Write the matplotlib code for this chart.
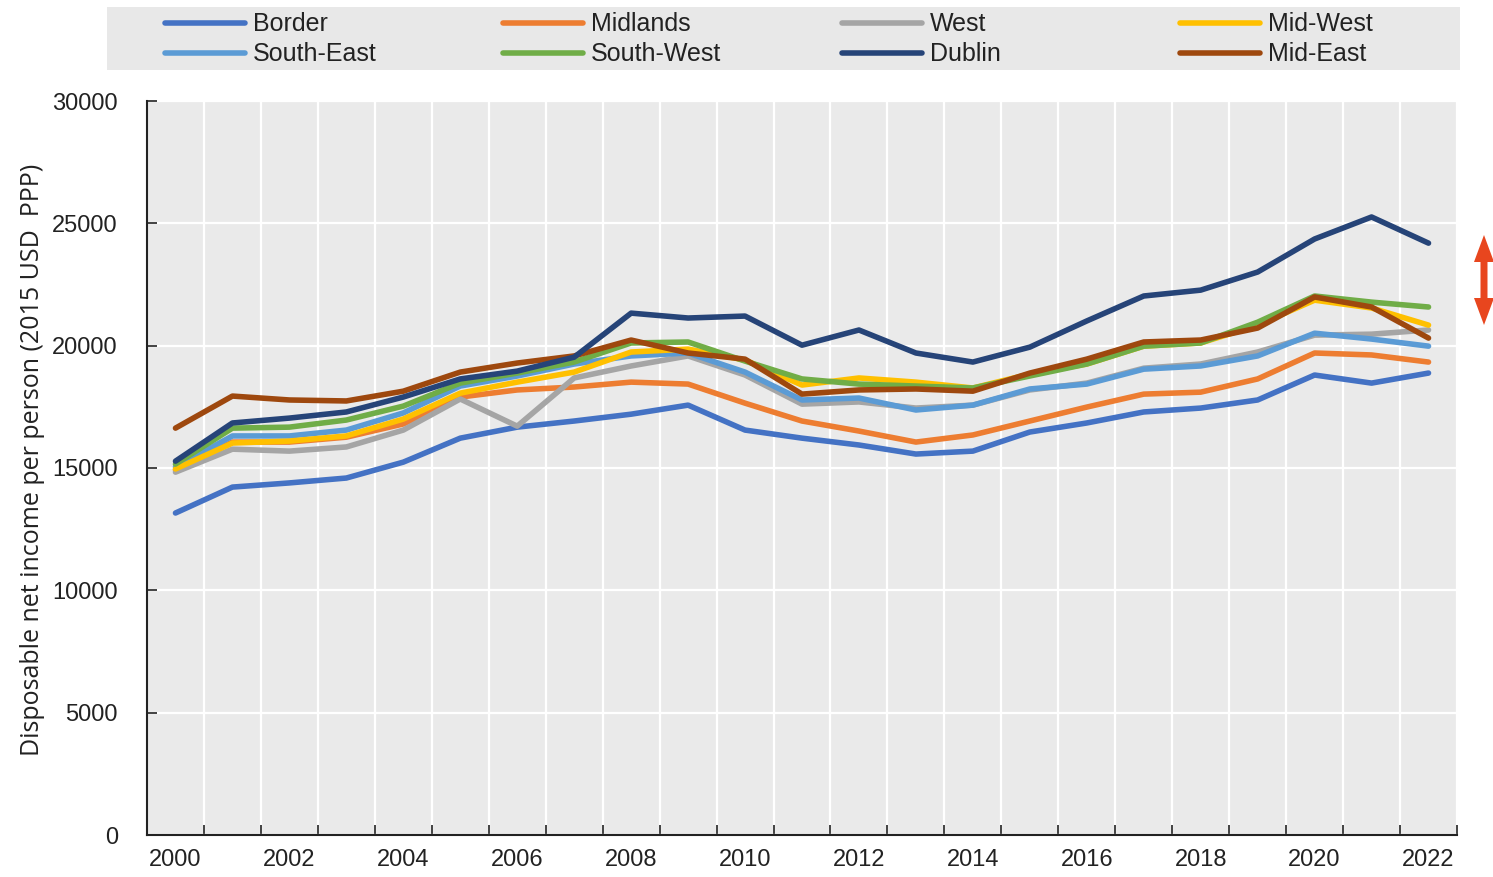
import matplotlib
matplotlib.use("Agg")
import matplotlib.pyplot as plt
from matplotlib.patches import Polygon
import numpy as np

years = list(range(2000, 2023))

border = [13160, 14220, 14390, 14590, 15240, 16220, 16670, 16920, 17200, 17570, 16550, 16220,
          15940, 15570, 15690, 16470, 16840, 17290, 17450, 17780, 18800, 18470, 18880]
midlands = [14920, 16060, 16060, 16260, 16800, 17900, 18190, 18310, 18510, 18430, 17650, 16920,
            16510, 16060, 16350, 16920, 17490, 18020, 18100, 18640, 19700, 19620, 19330]
west = [14830, 15770, 15690, 15860, 16550, 17820, 16710, 18680, 19170, 19580, 18800, 17610,
        17700, 17450, 17570, 18190, 18470, 19080, 19250, 19740, 20430, 20470, 20640]
mid_west = [14960, 16020, 16100, 16310, 17000, 18060, 18510, 18920, 19740, 19860, 19410, 18390,
            18680, 18510, 18270, 18840, 19250, 19980, 20110, 20840, 21860, 21540, 20840]
south_east = [15040, 16310, 16310, 16550, 17250, 18350, 18760, 19250, 19580, 19700, 18920, 17780,
              17860, 17370, 17570, 18230, 18430, 19040, 19170, 19580, 20510, 20270, 19980]
south_west = [15160, 16630, 16670, 16960, 17530, 18470, 18880, 19330, 20110, 20150, 19370, 18640,
              18430, 18350, 18270, 18760, 19250, 19980, 20110, 20960, 22030, 21780, 21580]
dublin = [15280, 16840, 17040, 17290, 17900, 18640, 18960, 19530, 21330, 21130, 21210, 20020,
          20640, 19700, 19330, 19940, 21010, 22030, 22270, 23010, 24360, 25260, 24190]
mid_east = [16630, 17940, 17780, 17740, 18140, 18920, 19290, 19580, 20230, 19700, 19450, 18020,
            18190, 18230, 18140, 18880, 19450, 20150, 20230, 20720, 21990, 21580, 20310]

# legend layout order (row by row)
names = ["Border", "Midlands", "West", "Mid-West",
         "South-East", "South-West", "Dublin", "Mid-East"]
series = [border, midlands, west, mid_west, south_east, south_west, dublin, mid_east]
colors = ["#4472C4", "#ED7D31", "#A5A5A5", "#FFC000",
          "#5B9BD5", "#70AD47", "#264478", "#9E480E"]
draw_order = [0, 1, 2, 4, 3, 5, 7, 6]

plt.rcParams["font.family"] = ["Liberation Sans", "DejaVu Sans"]
fs = 17
W, H = 1493, 877

fig = plt.figure(figsize=(W / 100, H / 100), dpi=100, facecolor="w")
ax = fig.add_axes([147 / W, 42 / H, 1310 / W, 734 / H])
ax.set_facecolor("#EAEAEA")

x = np.arange(len(years))
for i in draw_order:
    ax.plot(x, series[i], color=colors[i], lw=4.0, solid_capstyle="round", zorder=3)

ax.set_xlim(-0.5, len(years) - 0.5)
ax.set_ylim(0, 30000)
ax.set_yticks(range(0, 30001, 5000))
# year labels on category centres, ticks/grid on category boundaries
ax.set_xticks(list(np.arange(0.5, len(years) - 0.5, 1)) + [len(years) - 0.5])
ax.set_xticklabels([])
ax.set_xticks(x[::2], minor=True)
ax.set_xticklabels([str(y) for y in years[::2]], minor=True)
ax.tick_params(axis="x", which="major", direction="in", length=7, width=1.2, color="#222222")
ax.tick_params(axis="x", which="minor", length=0, pad=10, labelsize=fs, labelcolor="#222222")
ax.tick_params(axis="y", direction="in", length=7, width=1.2, pad=21, color="#222222",
               labelsize=fs, labelcolor="#222222")

ax.grid(True, which="major", color="white", lw=1.6, zorder=0)
ax.set_axisbelow(True)
for s in ["top", "right"]:
    ax.spines[s].set_visible(False)
for s in ["left", "bottom"]:
    ax.spines[s].set_color("#222222")
    ax.spines[s].set_linewidth(1.5)

ax.set_ylabel("Disposable net income per person (2015 USD  PPP)",
              fontfamily=["Open Sans", "DejaVu Sans"], fontsize=18, color="#222222")
ax.yaxis.set_label_coords(-0.078, 0.511)

# legend panel
lax = fig.add_axes([107 / W, (H - 70) / H, 1353 / W, 63 / H])
lax.set_facecolor("#E8E8E8")
lax.set_xlim(0, 1353)
lax.set_ylim(63, 0)
lax.set_xticks([])
lax.set_yticks([])
for s in lax.spines.values():
    s.set_visible(False)
col_x = [58, 396, 735, 1073]
row_y = [16, 46]
for k, name in enumerate(names):
    cx = col_x[k % 4]
    ry = row_y[k // 4]
    lax.plot([cx, cx + 80], [ry, ry], color=colors[k], lw=4.0, solid_capstyle="round")
    lax.text(cx + 88, ry + 1, name, va="center", ha="left", fontsize=18, color="#222222")

# red double arrow on the right (pixel outline, y measured from top)
cx0 = 1484
pts = [(cx0, 235), (cx0 + 10, 262), (cx0 + 3.5, 262), (cx0 + 3.5, 298), (cx0 + 10, 298),
       (cx0, 325), (cx0 - 10, 298), (cx0 - 3.5, 298), (cx0 - 3.5, 262), (cx0 - 10, 262)]
arrow = Polygon([(px / W, (H - py) / H) for px, py in pts], closed=True,
                transform=fig.transFigure, facecolor="#E8461E", edgecolor="none")
fig.patches.append(arrow)

fig.savefig("out.png", dpi=100)
